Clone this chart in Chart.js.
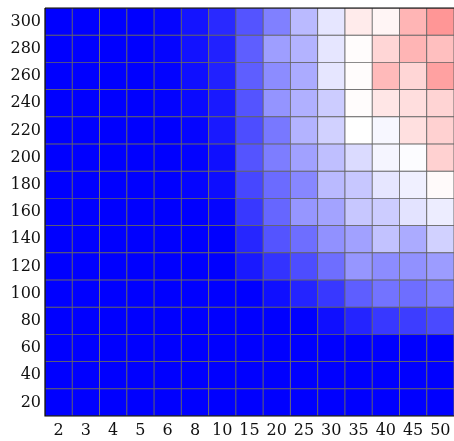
<!DOCTYPE html>
<html>
<head>
<meta charset="utf-8">
<script src="https://cdn.jsdelivr.net/npm/chart.js@4.4.0/dist/chart.umd.min.js"></script>
<style>
  body { margin: 0; background: #fff; }
</style>
</head>
<body>
<canvas id="heat" width="454" height="441"></canvas>
<script>
// column categories (x) and row categories (y)
const xLabels = ['2', '3', '4', '5', '6', '8', '10', '15', '20', '25', '30', '35', '40', '45', '50']
const yLabels = [20, 40, 60, 80, 100, 120, 140, 160, 180, 200, 220, 240, 260, 280, 300]

// cell values, -1 = full blue, 0 = white, +1 = full red
// one array per row, listed from y=20 up to y=300
const row20 = [-1, -1, -1, -1, -1, -1, -1, -1, -1, -1, -1, -1, -1, -1, -1]
const row40 = [-1, -1, -1, -1, -1, -1, -1, -1, -1, -1, -1, -1, -1, -1, -1]
const row60 = [-1, -1, -1, -1, -1, -1, -1, -1, -1, -1, -1, -1, -1, -1, -1]
const row80 = [-1, -1, -1, -1, -1, -1, -1, -1, -1, -1, -0.94, -0.86, -0.78, -0.76, -0.71]
const row100 = [-1, -1, -1, -1, -1, -1, -1, -1, -0.94, -0.86, -0.78, -0.63, -0.55, -0.57, -0.51]
const row120 = [-1, -1, -1, -1, -1, -1, -1, -0.9, -0.8, -0.7, -0.57, -0.41, -0.45, -0.43, -0.39]
const row140 = [-1, -1, -1, -1, -1, -1, -1, -0.85, -0.67, -0.57, -0.43, -0.37, -0.24, -0.33, -0.18]
const row160 = [-1, -1, -1, -1, -1, -1, -0.98, -0.78, -0.6, -0.41, -0.36, -0.22, -0.2, -0.11, -0.07]
const row180 = [-1, -1, -1, -1, -1, -0.98, -0.95, -0.72, -0.58, -0.47, -0.27, -0.22, -0.1, -0.06, 0.02]
const row200 = [-1, -1, -1, -1, -1, -0.99, -0.94, -0.67, -0.51, -0.37, -0.25, -0.14, -0.04, -0.01, 0.18]
const row220 = [-1, -1, -1, -1, -1, -0.98, -0.9, -0.7, -0.53, -0.3, -0.18, 0, -0.03, 0.12, 0.18]
const row240 = [-1, -1, -1, -1, -0.99, -0.96, -0.9, -0.67, -0.42, -0.31, -0.2, 0.01, 0.1, 0.13, 0.17]
const row260 = [-1, -1, -1, -1, -0.99, -0.94, -0.87, -0.63, -0.45, -0.33, -0.1, 0.01, 0.27, 0.16, 0.37]
const row280 = [-1, -1, -1, -1, -0.98, -0.93, -0.87, -0.63, -0.38, -0.3, -0.1, 0.01, 0.16, 0.29, 0.25]
const row300 = [-1, -1, -1, -1, -0.98, -0.92, -0.84, -0.67, -0.5, -0.27, -0.1, 0.08, 0.04, 0.29, 0.41]

const rows = [row20, row40, row60, row80, row100, row120, row140, row160,
    row180, row200, row220, row240, row260, row280, row300]

// blue -> white -> red
function cellColor(v) {
    if (v < 0) {
        let t = Math.round(255 * (1 + v))
        return `rgb(${t},${t},255)`
    }
    let t = Math.round(255 * (1 - v))
    return `rgb(255,${t},${t})`
}

const half = 10

const datasets = yLabels.map((y, i) => ({
    data: xLabels.map(() => [y - half, y + half]),
    backgroundColor: rows[i].map(cellColor),
    borderColor: '#666666',
    borderWidth: 0.8,
    borderSkipped: false,
    grouped: false,
    barPercentage: 1,
    categoryPercentage: 1
}))

const frame = {
    id: 'frame',
    afterDraw(chart) {
        const { ctx, chartArea } = chart
        ctx.save()
        ctx.strokeStyle = '#000'
        ctx.lineWidth = 1.2
        ctx.beginPath()
        ctx.moveTo(chartArea.left, chartArea.top)
        ctx.lineTo(chartArea.right, chartArea.top)
        ctx.moveTo(chartArea.left, chartArea.top)
        ctx.lineTo(chartArea.left, chartArea.bottom)
        ctx.lineTo(chartArea.right, chartArea.bottom)
        ctx.stroke()
        ctx.restore()
    }
}

const tickFont = { family: '"DejaVu Serif", serif', size: 16, lineHeight: 1 }

function noPad(scale) {
    scale.paddingTop = 0
    scale.paddingBottom = 0
    scale.paddingLeft = 0
    scale.paddingRight = 0
}

new Chart(document.getElementById('heat'), {
    type: 'bar',
    data: { labels: xLabels, datasets: datasets },
    plugins: [frame],
    options: {
        responsive: false,
        animation: false,
        layout: { padding: { top: 8, right: 0, left: 0, bottom: 0 } },
        plugins: {
            legend: { display: false },
            tooltip: { enabled: false }
        },
        scales: {
            x: {
                type: 'category',
                offset: true,
                grid: { display: false, drawTicks: false },
                border: { display: false },
                ticks: { color: '#111', font: tickFont, padding: 7, maxRotation: 0, autoSkip: false },
                afterFit(scale) { scale.height = 25; noPad(scale) }
            },
            y: {
                type: 'linear',
                min: 10,
                max: 310,
                grid: { display: false, drawTicks: false },
                border: { display: false },
                ticks: { color: '#111', font: tickFont, padding: 4 },
                afterBuildTicks(scale) {
                    scale.ticks = yLabels.map(v => ({ value: v }))
                },
                afterFit(scale) { scale.width = 45; noPad(scale) }
            }
        }
    }
})
</script>
</body>
</html>
